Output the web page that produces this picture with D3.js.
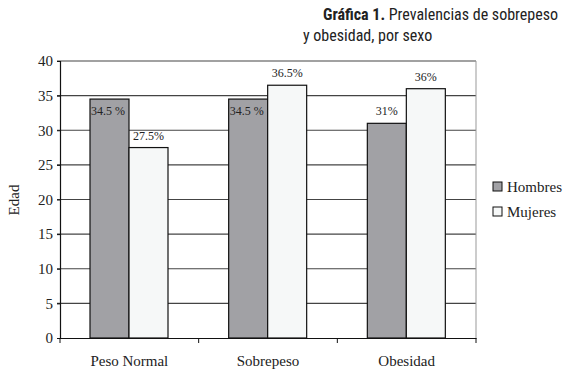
<!DOCTYPE html>
<html>
<head>
<meta charset="utf-8">
<script src="https://cdn.jsdelivr.net/npm/d3@7"></script>
<style>
  body { margin: 0; background: #fff; }
  svg text { fill: #222; }
</style>
</head>
<body>
<svg width="576" height="373"></svg>
<script>
const categories = ["Peso Normal", "Sobrepeso", "Obesidad"];
const series = ["Hombres", "Mujeres"];
const hombres = [34.5, 34.5, 31];
const mujeres = [27.5, 36.5, 36];
const labelsH = ["34.5 %", "34.5 %", "31%"];
const labelsM = ["27.5%", "36.5%", "36%"];
const yTicks = [0, 5, 10, 15, 20, 25, 30, 35, 40];
const colors = { Hombres: "#a1a1a5", Mujeres: "#f6f8f8" };

const svg = d3.select("svg");
const margin = { top: 61, right: 100, bottom: 35, left: 60 };
const innerWidth = 476 - margin.left;
const innerHeight = 338 - margin.top;

const g = svg.append("g").attr("transform", `translate(${margin.left}, ${margin.top})`);

const xScale = d3.scaleBand().domain(categories).range([0, innerWidth]);
const xSub = d3.scaleBand().domain(series)
    .range([30, 30 + 78]);
const yScale = d3.scaleLinear().domain([0, 40]).range([innerHeight, 0]);

// gridlines
g.append("g").selectAll("line").data(yTicks.filter(d => d > 0)).enter().append("line")
    .attr("x1", -3).attr("x2", innerWidth)
    .attr("y1", d => yScale(d)).attr("y2", d => yScale(d))
    .attr("stroke", "#444").attr("stroke-width", 1.2);

// right border
g.append("line").attr("x1", innerWidth).attr("x2", innerWidth)
    .attr("y1", 0).attr("y2", innerHeight).attr("stroke", "#999");

const rows = categories.map((c, i) => ({ c, H: hombres[i], M: mujeres[i], lh: labelsH[i], lm: labelsM[i] }));

const groups = g.selectAll(".grp").data(rows).enter().append("g")
    .attr("transform", d => `translate(${xScale(d.c)},0)`);

series.forEach(s => {
    groups.append("rect")
        .attr("x", xSub(s))
        .attr("y", d => yScale(s === "Hombres" ? d.H : d.M))
        .attr("width", xSub.bandwidth())
        .attr("height", d => innerHeight - yScale(s === "Hombres" ? d.H : d.M))
        .attr("fill", colors[s])
        .attr("stroke", "#111").attr("stroke-width", 1.2);
});

// value labels
groups.append("text")
    .attr("x", (d, i) => i < 2 ? xSub("Hombres") + 1 : xSub("Hombres") + xSub.bandwidth() / 2)
    .attr("y", (d, i) => i < 2 ? yScale(d.H) + 16 : yScale(d.H) - 8)
    .attr("text-anchor", (d, i) => i < 2 ? "start" : "middle")
    .attr("font-family", "Liberation Serif, serif").attr("font-size", 12)
    .text(d => d.lh);

groups.append("text")
    .attr("x", xSub("Mujeres") + xSub.bandwidth() / 2)
    .attr("y", d => yScale(d.M) - 8)
    .attr("text-anchor", "middle")
    .attr("font-family", "Liberation Serif, serif").attr("font-size", 12)
    .text(d => d.lm);

// y axis
const yAxis = g.append("g")
    .call(d3.axisLeft(yScale).tickValues(yTicks).tickSize(3).tickPadding(4));
yAxis.select(".domain").attr("stroke", "#111").attr("stroke-width", 1.2);
yAxis.selectAll(".tick line").attr("stroke", "#111");
yAxis.selectAll("text").attr("font-family", "Liberation Serif, serif").attr("font-size", 15).attr("fill", "#222");

// x axis
const xAxis = g.append("g").attr("transform", `translate(0, ${innerHeight})`)
    .call(d3.axisBottom(xScale).tickSize(0).tickPadding(17));
xAxis.select(".domain").attr("stroke", "#111").attr("stroke-width", 1.2);
xAxis.selectAll("text").attr("font-family", "Liberation Serif, serif").attr("font-size", 15).attr("fill", "#222");
xAxis.selectAll(".sep").data(d3.range(categories.length + 1)).enter().append("line")
    .attr("x1", i => i * xScale.step()).attr("x2", i => i * xScale.step())
    .attr("y1", 0).attr("y2", 5).attr("stroke", "#111");

// axis label
svg.append("text")
    .attr("transform", "translate(19, 200) rotate(-90)")
    .attr("text-anchor", "middle")
    .attr("font-family", "Liberation Serif, serif").attr("font-size", 15)
    .text("Edad");

// legend
const legend = svg.append("g").attr("transform", "translate(493, 182)");
series.forEach((s, i) => {
    const row = legend.append("g").attr("transform", `translate(0, ${i * 25})`);
    row.append("rect").attr("x", 0).attr("y", 0).attr("width", 9).attr("height", 9)
        .attr("fill", colors[s]).attr("stroke", "#111");
    row.append("text").attr("x", 14).attr("y", 10)
        .attr("font-family", "Liberation Serif, serif").attr("font-size", 15)
        .text(s);
});

// title
const titleFont = "Roboto Condensed, Liberation Sans Narrow, DejaVu Sans Condensed, sans-serif";
const title = svg.append("text")
    .attr("x", 558).attr("y", 20).attr("text-anchor", "end")
    .attr("font-family", titleFont)
    .attr("font-stretch", "condensed")
    .attr("font-size", 16);
title.append("tspan").attr("font-weight", "bold").text("Gráfica 1.");
title.append("tspan").text(" Prevalencias de sobrepeso");
svg.append("text")
    .attr("x", 303).attr("y", 41)
    .attr("font-family", titleFont)
    .attr("font-stretch", "condensed")
    .attr("font-size", 16)
    .text("y obesidad, por sexo");
</script>
</body>
</html>
